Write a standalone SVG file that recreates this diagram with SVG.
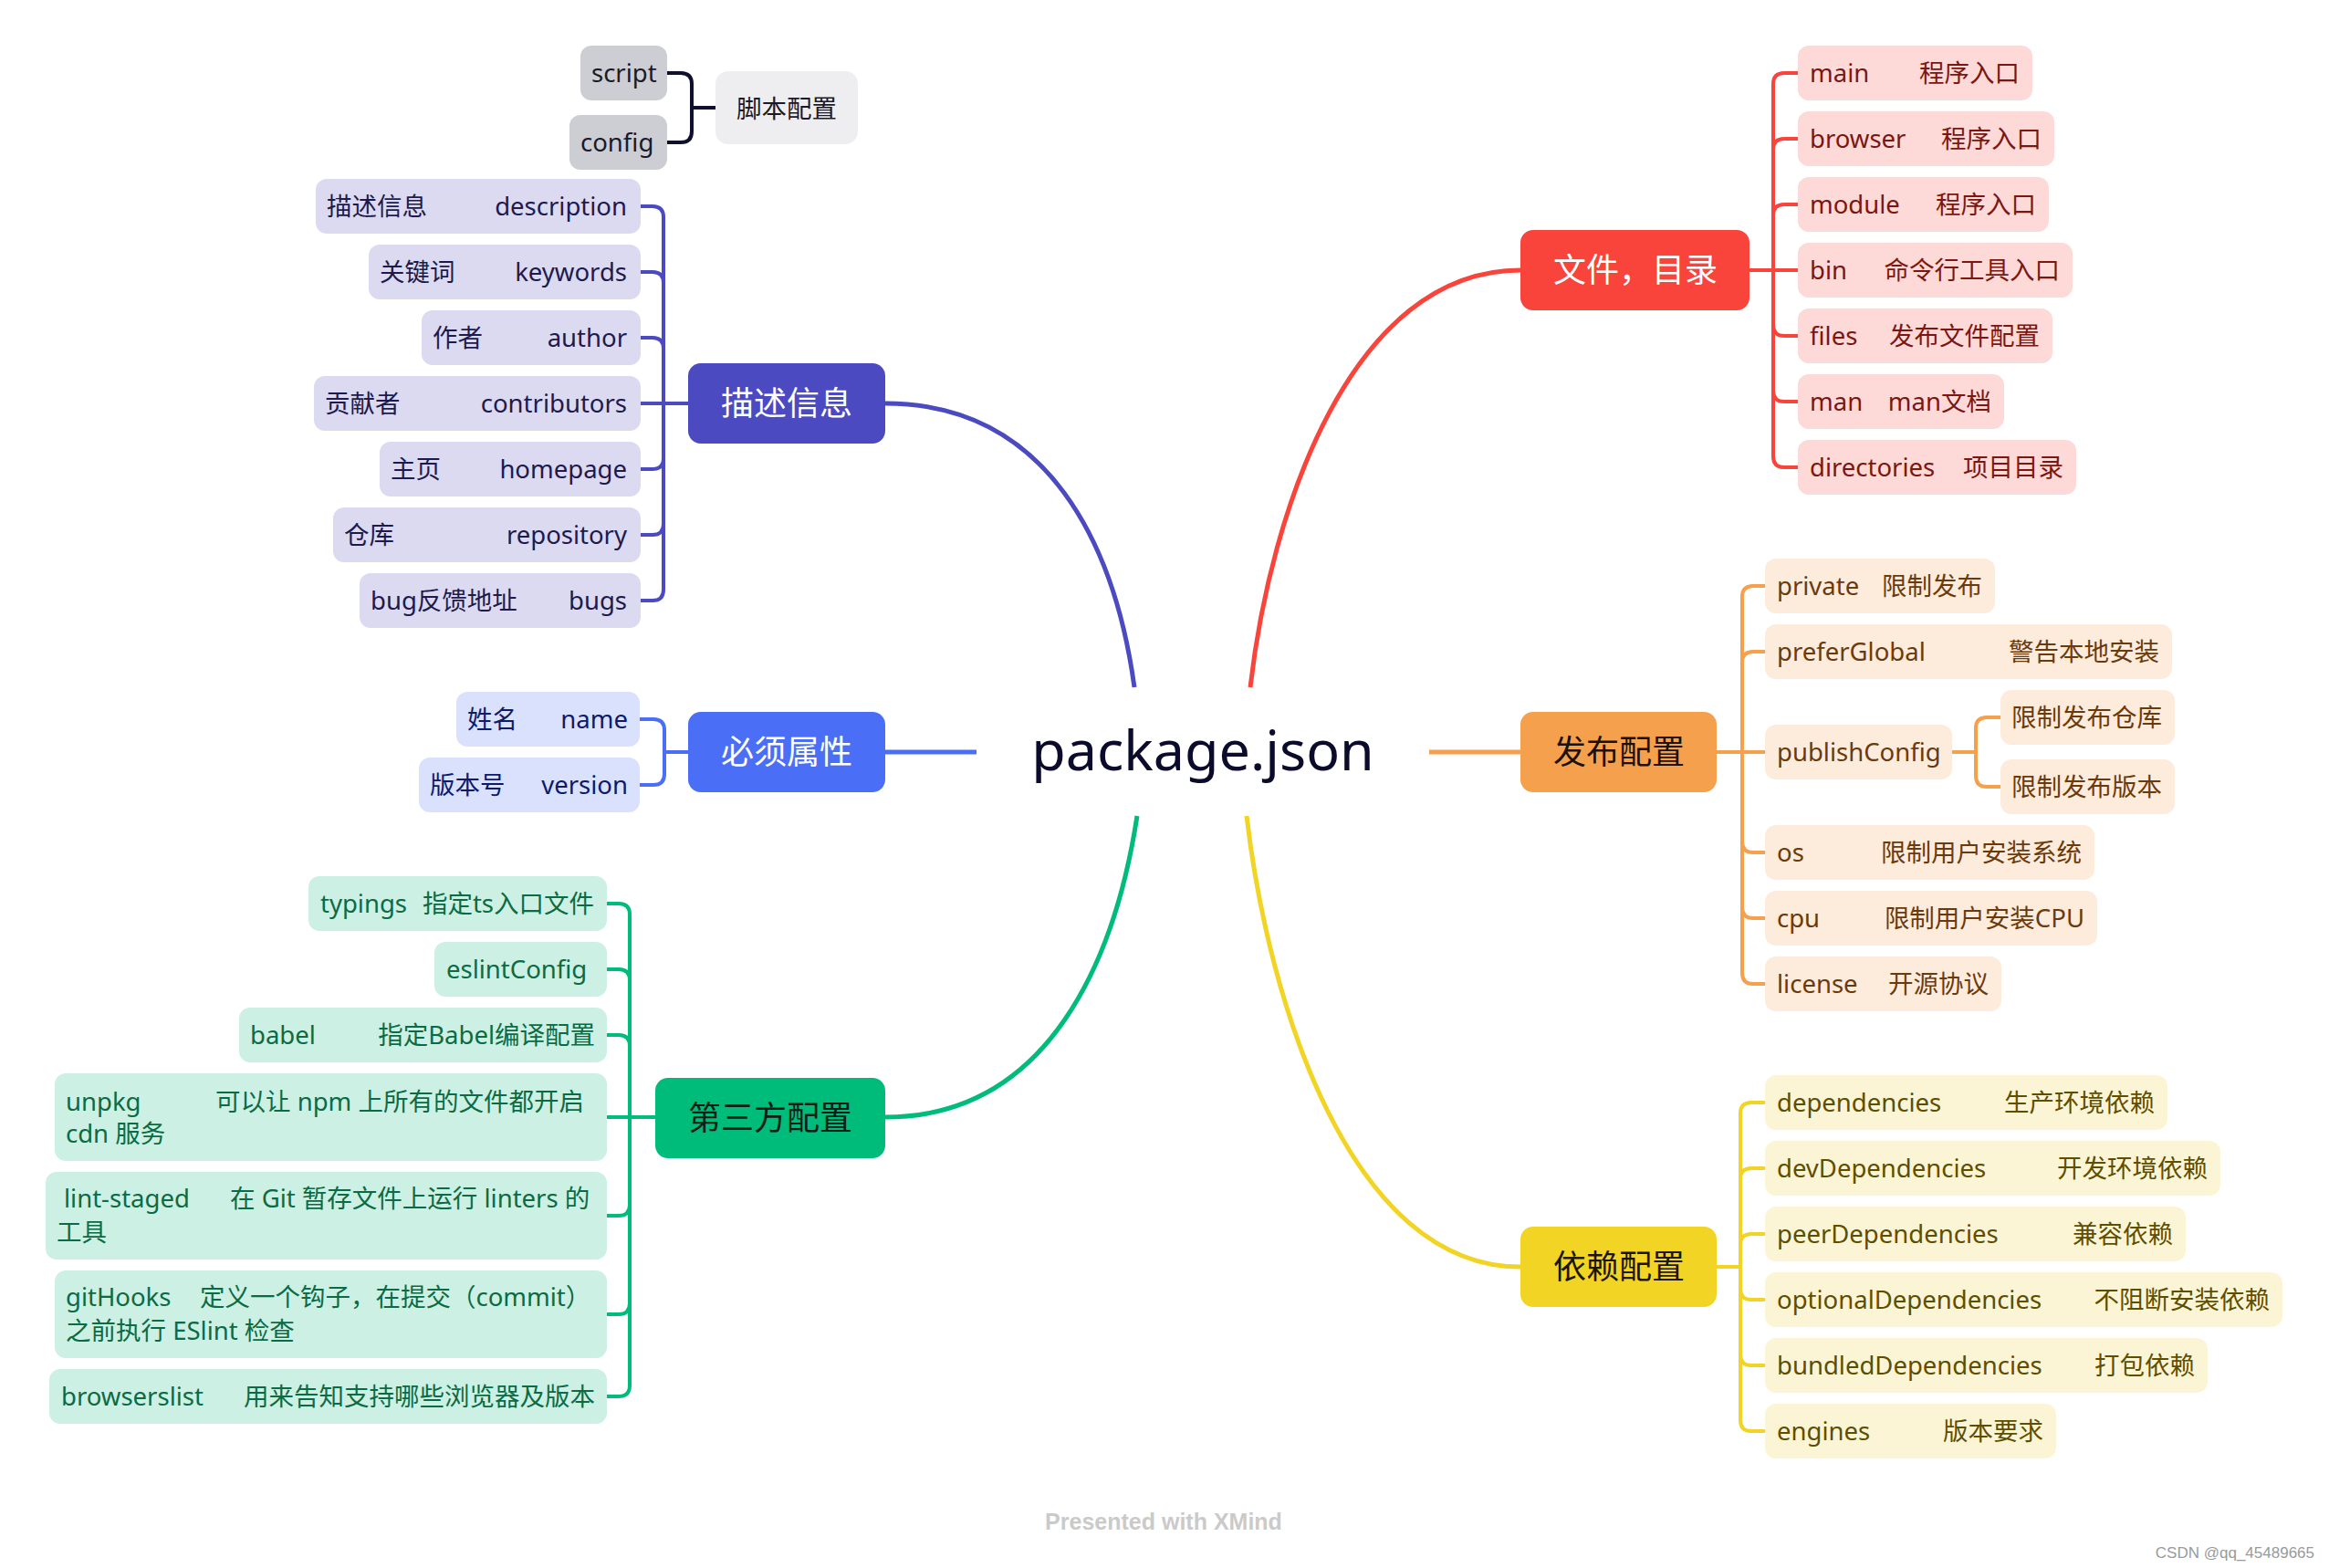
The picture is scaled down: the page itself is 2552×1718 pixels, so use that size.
<svg xmlns="http://www.w3.org/2000/svg" width="2552" height="1718" viewBox="0 0 2552 1718">
<style>
text{font-family:"Noto Sans","Noto Sans CJK SC",sans-serif;font-size:27.5px}
.e{text-anchor:end}
.m{font-size:36px;text-anchor:middle}
.c{fill:none;stroke-width:4;stroke-linecap:round}
.mc{fill:none;stroke-width:5}
.pu rect.leaf{fill:#DBDAF1}.pu text{fill:#1E1A4D}
.bl rect.leaf{fill:#DAE1FC}.bl text{fill:#0E1A6B}
.gr rect.leaf{fill:#CCF0E3}.gr text{fill:#0A6B44}
.rd rect.leaf{fill:#FDD9D8}.rd text{fill:#7B1611}
.or rect.leaf{fill:#FDEBDC}.or text{fill:#6A3A0C}
.ye rect.leaf{fill:#FCF5D5}.ye text{fill:#5E4E00}
.gy rect.leaf{fill:#CDCDD4}.gy text{fill:#1A1A2A}
</style>
<rect width="2552" height="1718" fill="#ffffff"/>

<g id="connectors">
  <!-- main curves -->
  <path class="mc" stroke="#4B4AC1" d="M970 442 C1150 442 1222 600 1243 753"/>
  <path class="mc" stroke="#F8443B" d="M1370 753 C1392 560 1480 296 1666 296"/>
  <path class="mc" stroke="#00BC7B" d="M970 1224 C1150 1224 1222 1050 1246 894"/>
  <path class="mc" stroke="#F2D424" d="M1366 894 C1390 1100 1480 1388 1666 1388"/>
  <path class="mc" stroke="#4B6EF6" d="M970 824 H1070"/>
  <path class="mc" stroke="#F5A04D" d="M1566 824 H1666"/>
  <!-- script config bracket -->
  <g class="c" stroke="#0F0F2E">
    <path d="M784 118 H758"/>
    <path d="M758 118 V92 Q758 80 746 80 H731"/>
    <path d="M758 118 V144 Q758 156 746 156 H731"/>
  </g>
  <!-- 描述信息 -->
  <g class="c" stroke="#4B4AC1">
    <path d="M754 442 H727"/>
    <path d="M727 442 V238 Q727 226 715 226 H702"/>
    <path d="M727 442 V310 Q727 298 715 298 H702"/>
    <path d="M727 442 V382 Q727 370 715 370 H702"/>
    <path d="M727 442 H702"/>
    <path d="M727 442 V502 Q727 514 715 514 H702"/>
    <path d="M727 442 V574 Q727 586 715 586 H702"/>
    <path d="M727 442 V646 Q727 658 715 658 H702"/>
  </g>
  <!-- 必须属性 -->
  <g class="c" stroke="#4B6EF6">
    <path d="M754 824 H728"/>
    <path d="M728 824 V800 Q728 788 716 788 H701"/>
    <path d="M728 824 V848 Q728 860 716 860 H701"/>
  </g>
  <!-- 第三方配置 -->
  <g class="c" stroke="#00BC7B">
    <path d="M718 1224 H690"/>
    <path d="M690 1224 V1002 Q690 990 678 990 H665"/>
    <path d="M690 1224 V1074 Q690 1062 678 1062 H665"/>
    <path d="M690 1224 V1146 Q690 1134 678 1134 H665"/>
    <path d="M690 1224 H665"/>
    <path d="M690 1224 V1320 Q690 1332 678 1332 H665"/>
    <path d="M690 1224 V1428 Q690 1440 678 1440 H665"/>
    <path d="M690 1224 V1518 Q690 1530 678 1530 H665"/>
  </g>
  <!-- 文件，目录 -->
  <g class="c" stroke="#F8443B">
    <path d="M1917 296 H1943"/>
    <path d="M1943 296 V92 Q1943 80 1955 80 H1970"/>
    <path d="M1943 296 V164 Q1943 152 1955 152 H1970"/>
    <path d="M1943 296 V236 Q1943 224 1955 224 H1970"/>
    <path d="M1943 296 H1970"/>
    <path d="M1943 296 V356 Q1943 368 1955 368 H1970"/>
    <path d="M1943 296 V428 Q1943 440 1955 440 H1970"/>
    <path d="M1943 296 V500 Q1943 512 1955 512 H1970"/>
  </g>
  <!-- 发布配置 -->
  <g class="c" stroke="#F5A04D">
    <path d="M1881 824 H1909"/>
    <path d="M1909 824 V654 Q1909 642 1921 642 H1934"/>
    <path d="M1909 824 V726 Q1909 714 1921 714 H1934"/>
    <path d="M1909 824 H1934"/>
    <path d="M1909 824 V922 Q1909 934 1921 934 H1934"/>
    <path d="M1909 824 V994 Q1909 1006 1921 1006 H1934"/>
    <path d="M1909 824 V1066 Q1909 1078 1921 1078 H1934"/>
    <path d="M2139 824 H2165"/>
    <path d="M2165 824 V798 Q2165 786 2177 786 H2192"/>
    <path d="M2165 824 V850 Q2165 862 2177 862 H2192"/>
  </g>
  <!-- 依赖配置 -->
  <g class="c" stroke="#F2D424">
    <path d="M1881 1388 H1907"/>
    <path d="M1907 1388 V1220 Q1907 1208 1919 1208 H1934"/>
    <path d="M1907 1388 V1292 Q1907 1280 1919 1280 H1934"/>
    <path d="M1907 1388 V1364 Q1907 1352 1919 1352 H1934"/>
    <path d="M1907 1388 V1412 Q1907 1424 1919 1424 H1934"/>
    <path d="M1907 1388 V1484 Q1907 1496 1919 1496 H1934"/>
    <path d="M1907 1388 V1556 Q1907 1568 1919 1568 H1934"/>
  </g>
</g>

<!-- central topic -->
<g id="root">
  <text x="1318" y="844" text-anchor="middle" style="font-size:61px" fill="#0B0B2B">package.json</text>
</g>

<!-- 脚本配置 -->
<g id="script-config" class="gy">
  <rect x="784" y="78" width="156" height="80" rx="14" fill="#EEEDF0"/>
  <text x="862" y="129" text-anchor="middle">脚本配置</text>
</g>
<g id="script" class="gy"><rect class="leaf" x="636" y="50" width="95" height="60" rx="12"/><text x="648" y="90">script</text></g>
<g id="config" class="gy"><rect class="leaf" x="624" y="126" width="107" height="60" rx="12"/><text x="636" y="166">config</text></g>

<!-- 描述信息 -->
<g id="desc-info" class="pu">
  <rect x="754" y="398" width="216" height="88" rx="14" fill="#4B4AC1"/>
  <text class="m" x="862" y="455" style="fill:#ffffff">描述信息</text>
</g>
<g id="description" class="pu"><rect class="leaf" x="346" y="196" width="356" height="60" rx="12"/><text x="358" y="236">描述信息</text><text class="e" x="687" y="236">description</text></g>
<g id="keywords" class="pu"><rect class="leaf" x="404" y="268" width="298" height="60" rx="12"/><text x="416" y="308">关键词</text><text class="e" x="687" y="308">keywords</text></g>
<g id="author" class="pu"><rect class="leaf" x="462" y="340" width="240" height="60" rx="12"/><text x="474" y="380">作者</text><text class="e" x="687" y="380">author</text></g>
<g id="contributors" class="pu"><rect class="leaf" x="344" y="412" width="358" height="60" rx="12"/><text x="356" y="452">贡献者</text><text class="e" x="687" y="452">contributors</text></g>
<g id="homepage" class="pu"><rect class="leaf" x="416" y="484" width="286" height="60" rx="12"/><text x="428" y="524">主页</text><text class="e" x="687" y="524">homepage</text></g>
<g id="repository" class="pu"><rect class="leaf" x="365" y="556" width="337" height="60" rx="12"/><text x="377" y="596">仓库</text><text class="e" x="687" y="596">repository</text></g>
<g id="bugs" class="pu"><rect class="leaf" x="394" y="628" width="308" height="60" rx="12"/><text x="406" y="668">bug反馈地址</text><text class="e" x="687" y="668">bugs</text></g>

<!-- 必须属性 -->
<g id="required" class="bl">
  <rect x="754" y="780" width="216" height="88" rx="14" fill="#4B6EF6"/>
  <text class="m" x="862" y="837" style="fill:#ffffff">必须属性</text>
</g>
<g id="name" class="bl"><rect class="leaf" x="500" y="758" width="201" height="60" rx="12"/><text x="512" y="798">姓名</text><text class="e" x="688" y="798">name</text></g>
<g id="version" class="bl"><rect class="leaf" x="459" y="830" width="242" height="60" rx="12"/><text x="471" y="870">版本号</text><text class="e" x="688" y="870">version</text></g>

<!-- 第三方配置 -->
<g id="third-party" class="gr">
  <rect x="718" y="1181" width="252" height="88" rx="14" fill="#00BC7B"/>
  <text class="m" x="844" y="1238" style="fill:#0B1F16">第三方配置</text>
</g>
<g id="typings" class="gr"><rect class="leaf" x="338" y="960" width="327" height="60" rx="12"/><text x="351" y="1000">typings</text><text class="e" x="651" y="1000">指定ts入口文件</text></g>
<g id="eslintConfig" class="gr"><rect class="leaf" x="476" y="1032" width="189" height="60" rx="12"/><text x="489" y="1072">eslintConfig</text></g>
<g id="babel" class="gr"><rect class="leaf" x="262" y="1104" width="403" height="60" rx="12"/><text x="274" y="1144">babel</text><text class="e" x="652" y="1144">指定Babel编译配置</text></g>
<g id="unpkg" class="gr"><rect class="leaf" x="60" y="1176" width="605" height="96" rx="12"/><text x="72" y="1217">unpkg</text><text x="236" y="1217">可以让 npm 上所有的文件都开启</text><text x="72" y="1252">cdn 服务</text></g>
<g id="lint-staged" class="gr"><rect class="leaf" x="50" y="1284" width="615" height="96" rx="12"/><text x="70" y="1323">lint-staged</text><text x="252" y="1323">在 Git 暂存文件上运行 linters 的</text><text x="62" y="1360">工具</text></g>
<g id="gitHooks" class="gr"><rect class="leaf" x="60" y="1392" width="605" height="96" rx="12"/><text x="72" y="1431">gitHooks</text><text x="219" y="1431">定义一个钩子，在提交（commit）</text><text x="72" y="1468">之前执行 ESlint 检查</text></g>
<g id="browserslist" class="gr"><rect class="leaf" x="54" y="1500" width="611" height="60" rx="12"/><text x="67" y="1540">browserslist</text><text class="e" x="652" y="1540">用来告知支持哪些浏览器及版本</text></g>

<!-- 文件，目录 -->
<g id="files-dirs" class="rd">
  <rect x="1666" y="252" width="251" height="88" rx="14" fill="#F8443B"/>
  <text class="m" x="1792" y="309" style="fill:#ffffff">文件，目录</text>
</g>
<g id="main" class="rd"><rect class="leaf" x="1970" y="50" width="257" height="60" rx="12"/><text x="1983" y="90">main</text><text class="e" x="2213" y="90">程序入口</text></g>
<g id="browser" class="rd"><rect class="leaf" x="1970" y="122" width="281" height="60" rx="12"/><text x="1983" y="162">browser</text><text class="e" x="2237" y="162">程序入口</text></g>
<g id="module" class="rd"><rect class="leaf" x="1970" y="194" width="275" height="60" rx="12"/><text x="1983" y="234">module</text><text class="e" x="2231" y="234">程序入口</text></g>
<g id="bin" class="rd"><rect class="leaf" x="1970" y="266" width="301" height="60" rx="12"/><text x="1983" y="306">bin</text><text class="e" x="2257" y="306">命令行工具入口</text></g>
<g id="files" class="rd"><rect class="leaf" x="1970" y="338" width="279" height="60" rx="12"/><text x="1983" y="378">files</text><text class="e" x="2235" y="378">发布文件配置</text></g>
<g id="man" class="rd"><rect class="leaf" x="1970" y="410" width="226" height="60" rx="12"/><text x="1983" y="450">man</text><text class="e" x="2182" y="450">man文档</text></g>
<g id="directories" class="rd"><rect class="leaf" x="1970" y="482" width="305" height="60" rx="12"/><text x="1983" y="522">directories</text><text class="e" x="2261" y="522">项目目录</text></g>

<!-- 发布配置 -->
<g id="publish" class="or">
  <rect x="1666" y="780" width="215" height="88" rx="14" fill="#F5A04D"/>
  <text class="m" x="1774" y="837" style="fill:#1A1208">发布配置</text>
</g>
<g id="private" class="or"><rect class="leaf" x="1934" y="612" width="252" height="60" rx="12"/><text x="1947" y="652">private</text><text class="e" x="2172" y="652">限制发布</text></g>
<g id="preferGlobal" class="or"><rect class="leaf" x="1934" y="684" width="446" height="60" rx="12"/><text x="1947" y="724">preferGlobal</text><text class="e" x="2366" y="724">警告本地安装</text></g>
<g id="publishConfig" class="or"><rect class="leaf" x="1934" y="794" width="205" height="60" rx="12"/><text x="1947" y="834">publishConfig</text></g>
<g id="pc-registry" class="or"><rect class="leaf" x="2192" y="756" width="191" height="60" rx="12"/><text x="2204" y="796">限制发布仓库</text></g>
<g id="pc-version" class="or"><rect class="leaf" x="2192" y="832" width="191" height="60" rx="12"/><text x="2204" y="872">限制发布版本</text></g>
<g id="os" class="or"><rect class="leaf" x="1934" y="904" width="361" height="60" rx="12"/><text x="1947" y="944">os</text><text class="e" x="2281" y="944">限制用户安装系统</text></g>
<g id="cpu" class="or"><rect class="leaf" x="1934" y="976" width="364" height="60" rx="12"/><text x="1947" y="1016">cpu</text><text class="e" x="2284" y="1016">限制用户安装CPU</text></g>
<g id="license" class="or"><rect class="leaf" x="1934" y="1048" width="259" height="60" rx="12"/><text x="1947" y="1088">license</text><text class="e" x="2179" y="1088">开源协议</text></g>

<!-- 依赖配置 -->
<g id="deps" class="ye">
  <rect x="1666" y="1344" width="215" height="88" rx="14" fill="#F2D424"/>
  <text class="m" x="1774" y="1401" style="fill:#1A1600">依赖配置</text>
</g>
<g id="dependencies" class="ye"><rect class="leaf" x="1934" y="1178" width="441" height="60" rx="12"/><text x="1947" y="1218">dependencies</text><text class="e" x="2361" y="1218">生产环境依赖</text></g>
<g id="devDependencies" class="ye"><rect class="leaf" x="1934" y="1250" width="499" height="60" rx="12"/><text x="1947" y="1290">devDependencies</text><text class="e" x="2419" y="1290">开发环境依赖</text></g>
<g id="peerDependencies" class="ye"><rect class="leaf" x="1934" y="1322" width="461" height="60" rx="12"/><text x="1947" y="1362">peerDependencies</text><text class="e" x="2381" y="1362">兼容依赖</text></g>
<g id="optionalDependencies" class="ye"><rect class="leaf" x="1934" y="1394" width="567" height="60" rx="12"/><text x="1947" y="1434">optionalDependencies</text><text class="e" x="2487" y="1434">不阻断安装依赖</text></g>
<g id="bundledDependencies" class="ye"><rect class="leaf" x="1934" y="1466" width="485" height="60" rx="12"/><text x="1947" y="1506">bundledDependencies</text><text class="e" x="2405" y="1506">打包依赖</text></g>
<g id="engines" class="ye"><rect class="leaf" x="1934" y="1538" width="319" height="60" rx="12"/><text x="1947" y="1578">engines</text><text class="e" x="2239" y="1578">版本要求</text></g>

<text x="1275" y="1676" text-anchor="middle" style="font-family:'Liberation Sans',sans-serif;font-size:25px;font-weight:bold" fill="#CACACA">Presented with XMind</text>
<text x="2536" y="1707" text-anchor="end" style="font-family:'Liberation Sans',sans-serif;font-size:17px" fill="#9A9A9A">CSDN @qq_45489665</text>
</svg>
